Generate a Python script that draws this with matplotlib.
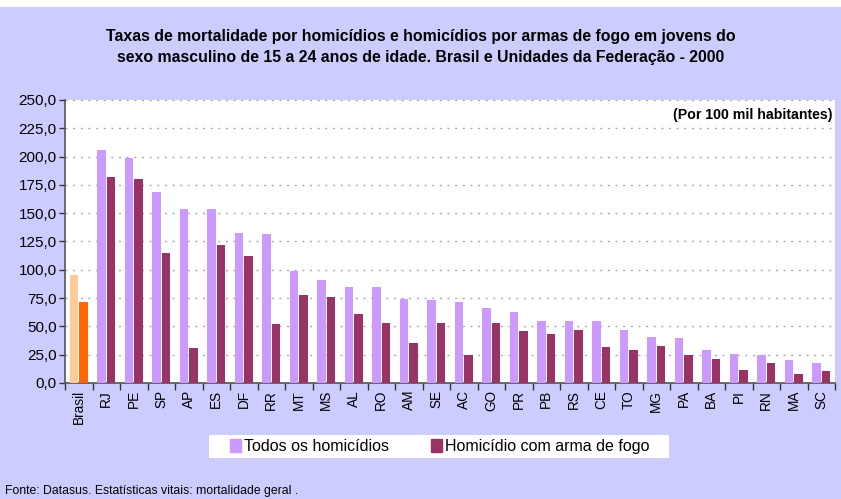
import numpy as np
import matplotlib.pyplot as plt
from matplotlib.ticker import FixedLocator, FuncFormatter
from matplotlib.patches import Patch, Rectangle

plt.rcParams['font.family'] = ['Liberation Sans', 'DejaVu Sans']

# values
ufs = ['Brasil', 'RJ', 'PE', 'SP', 'AP', 'ES', 'DF', 'RR', 'MT', 'MS', 'AL', 'RO',
       'AM', 'SE', 'AC', 'GO', 'PR', 'PB', 'RS', 'CE', 'TO', 'MG', 'PA', 'BA',
       'PI', 'RN', 'MA', 'SC']
todos = [95.6, 205.6, 198.5, 168.4, 153.3, 153.3, 132.9, 132.0, 99.1, 91.1, 84.9, 84.9,
         74.3, 73.4, 71.6, 66.3, 62.7, 54.7, 54.7, 54.7, 46.7, 40.5, 39.6, 29.0,
         25.4, 24.6, 20.1, 17.5]
arma = [71.6, 181.7, 179.9, 115.1, 30.8, 122.2, 112.4, 52.1, 77.8, 76.0, 61.0, 53.0,
        35.2, 53.0, 24.6, 53.0, 45.9, 43.2, 46.7, 31.7, 29.0, 32.5, 24.6, 21.0,
        11.2, 17.5, 7.7, 10.4]

c_todos = '#CC99FF'
c_arma = '#993366'
c_br_todos = '#FFCC99'
c_br_arma = '#FF6600'
bg = '#CCCCFF'

W, H = 841, 499
fig = plt.figure(figsize=(W / 100, H / 100), dpi=100, facecolor=bg)

# white strip along the top edge
fig.patches.append(Rectangle((0, 1 - 7 / H), 1, 7 / H, transform=fig.transFigure,
                             facecolor='white', edgecolor='none', zorder=0))

ax = fig.add_axes([65 / W, 1 - 383 / H, 770 / W, 283 / H])
ax.set_facecolor('white')

x = np.arange(len(ufs))
w = 0.31
cols1 = [c_br_todos] + [c_todos] * (len(ufs) - 1)
cols2 = [c_br_arma] + [c_arma] * (len(ufs) - 1)
ax.bar(x - 0.165, todos, width=w, color=cols1, zorder=3)
ax.bar(x + 0.165, arma, width=w, color=cols2, zorder=3)

ax.set_xlim(-0.5, len(ufs) - 0.5)
ax.set_ylim(0, 250)
ax.set_yticks(np.arange(0, 251, 25))
ax.yaxis.set_major_formatter(FuncFormatter(lambda v, p: f'{v:.1f}'.replace('.', ',')))
ax.grid(axis='y', color='#AAAAAA', linestyle=(0, (1.5, 4)), linewidth=1.0, zorder=0)

ax.set_xticks(x)
ax.set_xticklabels(ufs, rotation=90, fontsize=9.8)
ax.tick_params(axis='x', which='major', length=0, pad=5)
ax.xaxis.set_minor_locator(FixedLocator(np.arange(-0.5, len(ufs), 1)))
ax.tick_params(axis='x', which='minor', length=5, width=1, color='#333333')
ax.tick_params(axis='y', length=4, width=1, color='#333333', labelsize=11, pad=2)

for s in ['top', 'right']:
    ax.spines[s].set_visible(False)
for s in ['left', 'bottom']:
    ax.spines[s].set_color('#555555')
    ax.spines[s].set_linewidth(1.2)

ax.text(0.997, 0.948, '(Por 100 mil habitantes)', transform=ax.transAxes,
        ha='right', va='center', fontsize=10.2, fontweight='bold')

fig.text(0.5, 1 - 47 / H, 'Taxas de mortalidade por homicídios e homicídios por armas de fogo em jovens do\n'
         'sexo masculino de 15 a 24 anos de idade. Brasil e Unidades da Federação - 2000',
         ha='center', va='center', fontsize=11.4, fontweight='bold', linespacing=1.55)

# legend on a white panel
fig.patches.append(Rectangle((209 / W, 1 - 458 / H), 460 / W, 23 / H, transform=fig.transFigure,
                             facecolor='white', edgecolor='none', zorder=1))
handles = [Patch(color=c_todos, label='Todos os homicídios'),
           Patch(color=c_arma, label='Homicídio com arma de fogo')]
fig.legend(handles=handles, loc='center', bbox_to_anchor=(440 / W, 1 - 446.5 / H),
           ncol=2, fontsize=11.5, frameon=False,
           handlelength=0.7, handleheight=0.9,
           handletextpad=0.2, columnspacing=2.6)

fig.text(5 / W, 1 - 491 / H, 'Fonte: Datasus. Estatísticas vitais: mortalidade geral .',
         ha='left', va='center', fontsize=8.8)

fig.savefig('out.png', dpi=100, facecolor=bg)
